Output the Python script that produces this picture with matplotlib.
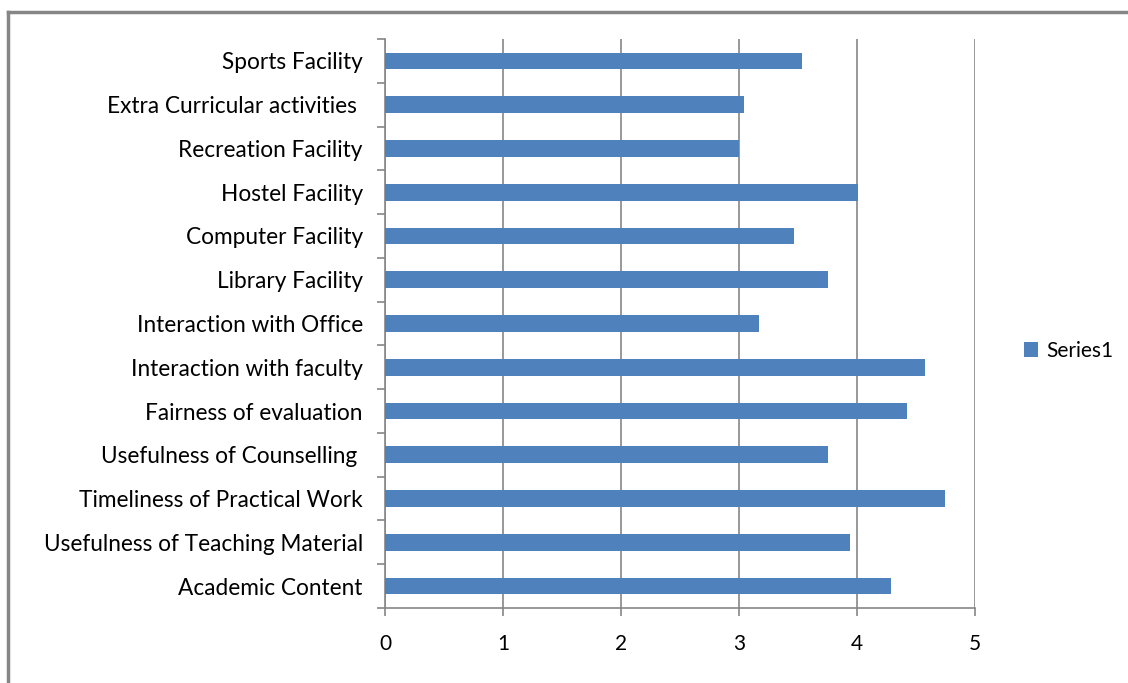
import matplotlib
matplotlib.use("Agg")
import matplotlib.pyplot as plt
from matplotlib.lines import Line2D

categories = [
    "Academic Content",
    "Usefulness of Teaching Material",
    "Timeliness of Practical Work",
    "Usefulness of Counselling ",
    "Fairness of evaluation",
    "Interaction with faculty",
    "Interaction with Office",
    "Library Facility",
    "Computer Facility",
    "Hostel Facility",
    "Recreation Facility",
    "Extra Curricular activities ",
    "Sports Facility",
]
values = [4.29, 3.94, 4.75, 3.75, 4.42, 4.58, 3.17, 3.75, 3.47, 4.01, 3.00, 3.04, 3.53]
x_ticks = [0, 1, 2, 3, 4, 5]
series_name = "Series1"

W, H = 1128, 683
fig = plt.figure(figsize=(W / 100, H / 100), dpi=100)
plt.rcParams['font.family'] = ['Lato', 'DejaVu Sans']

ax = fig.add_axes([385 / W, 1 - 608 / H, (975 - 385) / W, (608 - 39) / H])
ypos = list(range(len(categories)))
bars = ax.barh(ypos, values, height=0.38, color="#4F81BD", zorder=3, label=series_name)

ax.set_xlim(0, 5)
ax.set_ylim(-0.5, len(categories) - 0.5)
ax.set_xticks(x_ticks)
ax.set_xticklabels([str(t) for t in x_ticks], fontsize=15)
ax.set_yticks([y - 0.5 for y in ypos] + [len(categories) - 0.5])
ax.set_yticklabels([])
ax.set_yticks(ypos, minor=True)
ax.set_yticklabels(categories, minor=True, fontsize=16.3)
ax.tick_params(axis='y', which='minor', length=0, pad=16)
ax.tick_params(axis='y', which='major', length=6, width=1.2, color="#868686", direction='out')
ax.tick_params(axis='x', length=6, width=1.2, color="#868686", direction='out', pad=13)

ax.grid(axis='x', color="#868686", linewidth=1.2, zorder=0)
for s in ['top', 'right']:
    ax.spines[s].set_visible(False)
for s in ['left', 'bottom']:
    ax.spines[s].set_color("#868686")
    ax.spines[s].set_linewidth(1.2)

leg = fig.legend(handles=[bars], labels=[series_name], loc='center left',
                 bbox_to_anchor=(1005 / W, 1 - 351 / H), frameon=False,
                 fontsize=15, handlelength=0.7, handleheight=0.7, handletextpad=0.4)

# outer chart border (left and top visible)
fig.add_artist(Line2D([8 / W, 8 / W], [0, 1 - 12 / H], transform=fig.transFigure,
                      color="#868686", linewidth=2.5))
fig.add_artist(Line2D([8 / W, 1], [1 - 12 / H, 1 - 12 / H], transform=fig.transFigure,
                      color="#868686", linewidth=2.5))

fig.savefig("out.png", dpi=100)
